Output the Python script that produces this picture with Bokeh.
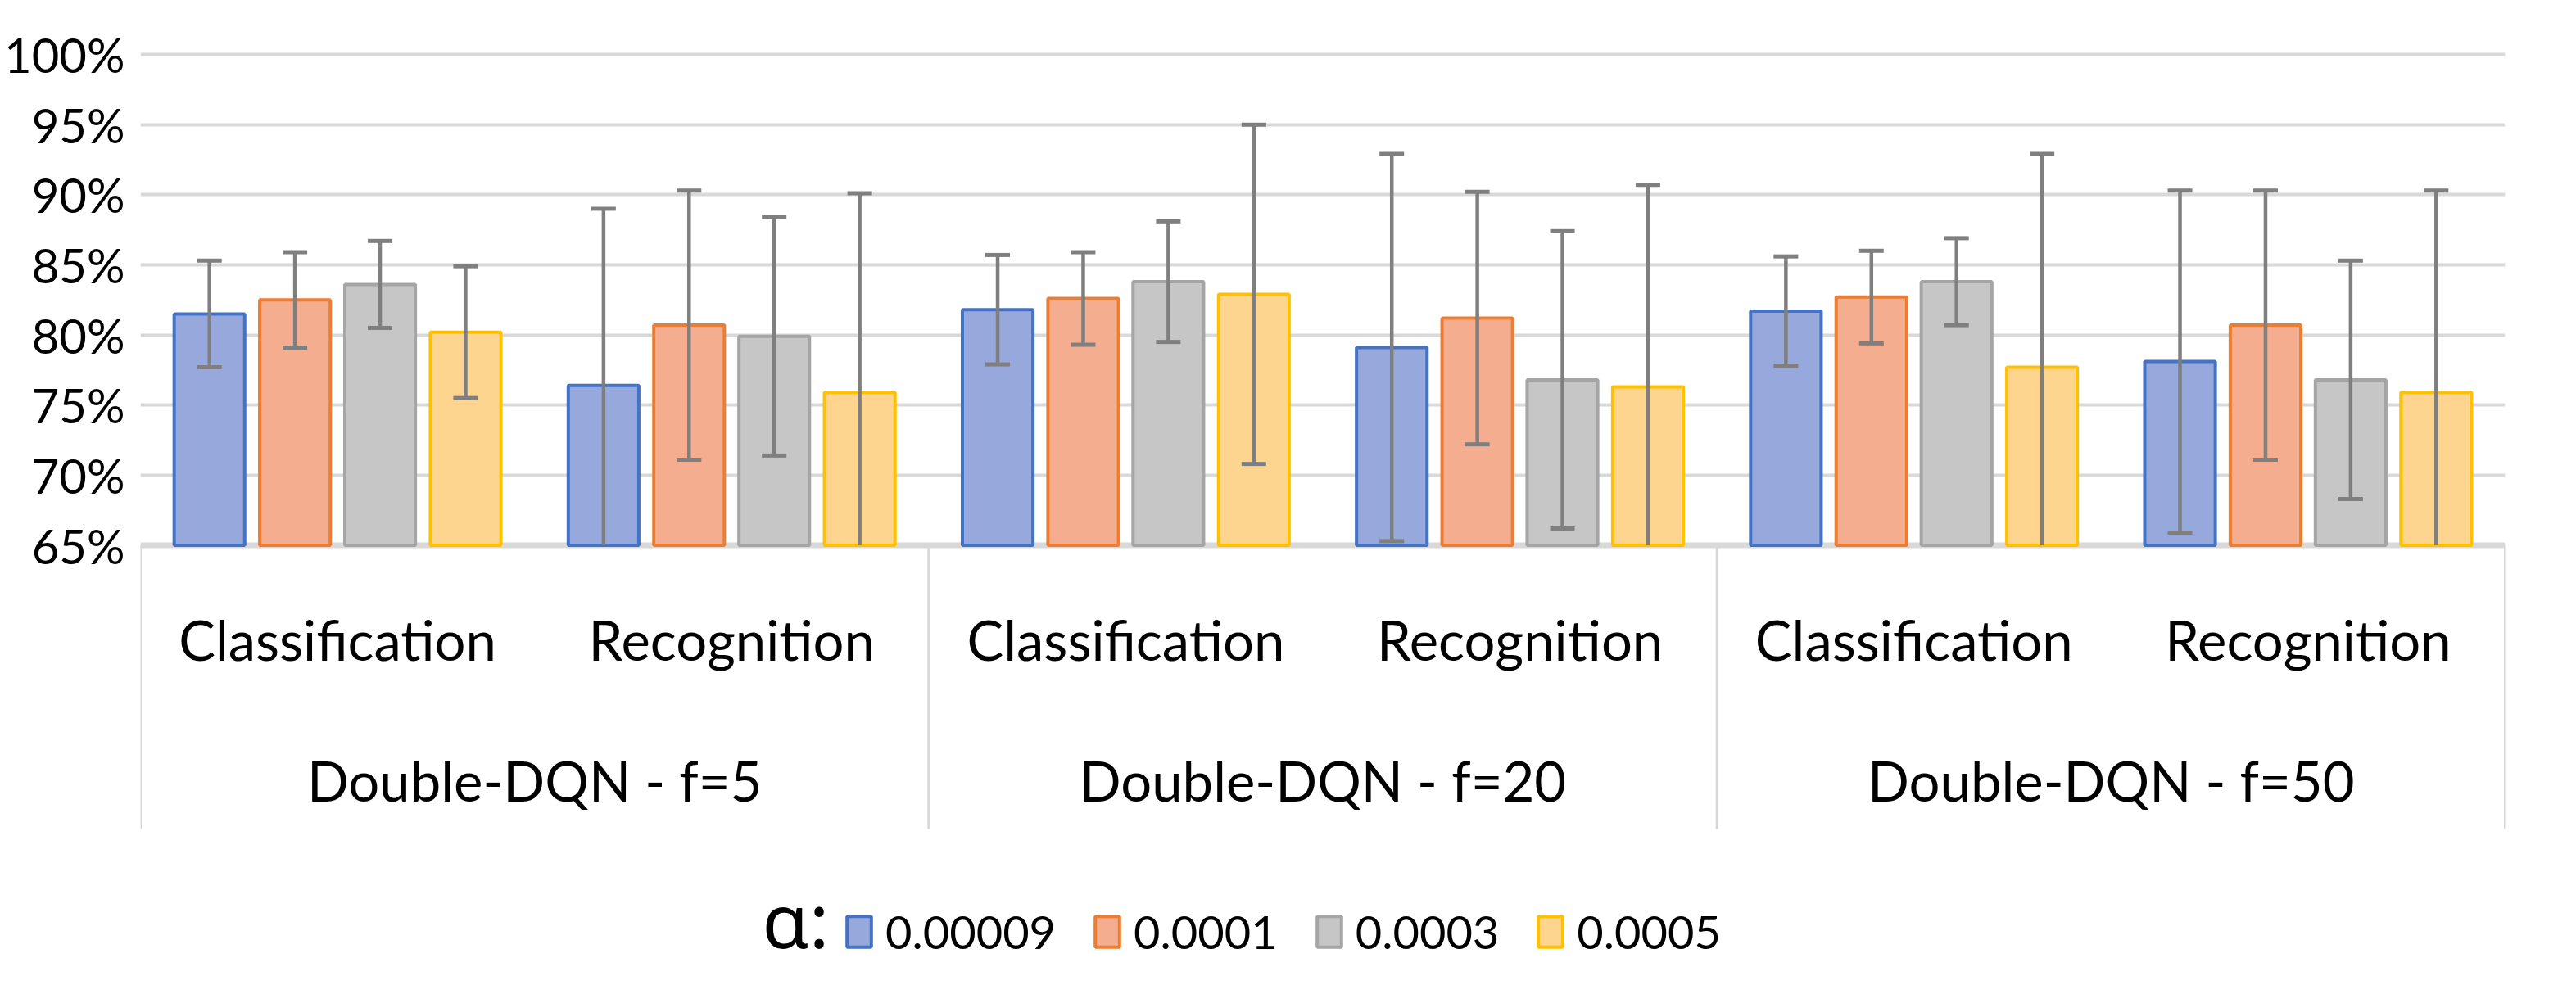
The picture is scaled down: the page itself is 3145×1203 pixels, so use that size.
from bokeh.plotting import figure
from bokeh.models import (ColumnDataSource, FactorRange, Range1d, FixedTicker,
                          PrintfTickFormatter, Legend, LegendItem, Span)
from bokeh.transform import dodge
from bokeh.core.properties import value
from bokeh.embed import file_html
from bokeh.resources import INLINE

# ---------------- data ----------------
groups = ["Double-DQN - f=5", "Double-DQN - f=20", "Double-DQN - f=50"]
tasks = ["Classification", "Recognition"]
alphas = ["0.00009", "0.0001", "0.0003", "0.0005"]

# mean accuracy (%) per (group, task), in order f5-Cls, f5-Rec, f20-Cls, f20-Rec, f50-Cls, f50-Rec
acc_00009 = [81.5, 76.4, 81.8, 79.1, 81.7, 78.1]
acc_0001 = [82.5, 80.7, 82.6, 81.2, 82.7, 80.7]
acc_0003 = [83.6, 79.9, 83.8, 76.8, 83.8, 76.8]
acc_0005 = [80.2, 75.9, 82.9, 76.3, 77.7, 75.9]

# error bar half-length (%)
err_00009 = [3.8, 12.6, 3.9, 13.8, 3.9, 12.2]
err_0001 = [3.4, 9.6, 3.3, 9.0, 3.3, 9.6]
err_0003 = [3.1, 8.5, 4.3, 10.6, 3.1, 8.5]
err_0005 = [4.7, 14.2, 12.1, 14.4, 15.2, 14.4]

y_ticks = [65, 70, 75, 80, 85, 90, 95, 100]

# ---------------- styles ----------------
FONT = "Lato"
ALPHA_FONT = "Noto Sans"
fills = ["#97A9DC", "#F4AD8F", "#C6C6C6", "#FED58E"]
edges = ["#4472C4", "#ED7D31", "#A5A5A5", "#FFC000"]
ERR = "#7F7F7F"
GRID = "#D9D9D9"
offsets = [-0.325, -0.108, 0.108, 0.325]
BAR_W = 0.179

# page-pixel layout
W, H = 3128, 1190
FR_L, FR_R, FR_T, FR_B = 179, 3066, 40, 1196
PX65, PX100 = 673.5, 74.0

factors = [(g, t) for g in groups for t in tasks]
per = (PX65 - PX100) / (y_ticks[-1] - y_ticks[0])
y_min = y_ticks[0]
y_start = y_min - (FR_B - PX65) / per
y_end = y_ticks[-1] + (PX100 - FR_T) / per
unit = (FR_R - FR_L) / len(factors)


def xd(px):
    return (px - FR_L) / unit


def yd(py):
    return y_min - (py - PX65) / per


p = figure(width=W, height=H,
           x_range=FactorRange(factors=factors, factor_padding=0, subgroup_padding=0,
                               group_padding=0, range_padding=0),
           y_range=Range1d(y_start, y_end),
           output_backend="svg", toolbar_location=None,
           min_border_left=FR_L - 8, min_border_right=8 + W - FR_R,
           min_border_top=FR_T - 8, min_border_bottom=8 + H - FR_B)
p.outline_line_color = None
p.background_fill_color = "white"
p.border_fill_color = "white"
p.xaxis.visible = False
p.xgrid.visible = False

ticker = FixedTicker(ticks=y_ticks)
p.yaxis.ticker = ticker
p.yaxis.formatter = PrintfTickFormatter(format="%d%%")
p.yaxis.axis_line_color = None
p.yaxis.major_tick_line_color = None
p.yaxis.minor_tick_line_color = None
p.yaxis.major_label_standoff = 13
p.yaxis.major_label_text_font = FONT
p.yaxis.major_label_text_font_size = "58px"
p.yaxis.major_label_text_color = "black"
p.ygrid.ticker = ticker
p.ygrid.grid_line_color = GRID
p.ygrid.grid_line_width = 4

p.add_layout(Span(location=y_min, dimension="width", line_color=GRID,
                  line_width=7, level="underlay"))

series_vals = [acc_00009, acc_0001, acc_0003, acc_0005]
series_err = [err_00009, err_0001, err_0003, err_0005]

renderers = []
for i, a in enumerate(alphas):
    v = series_vals[i]
    e = series_err[i]
    hi = [m + d for m, d in zip(v, e)]
    lo = [max(m - d, y_min) for m, d in zip(v, e)]
    src = ColumnDataSource(dict(x=factors, top=v, hi=hi, lo=lo))
    xs = dodge("x", offsets[i], range=p.x_range)
    r = p.vbar(x=xs, top="top", bottom=y_min, width=BAR_W, source=src,
               fill_color=fills[i], line_color=edges[i], line_width=4)
    renderers.append(r)
    p.segment(x0=xs, y0="lo", x1=xs, y1="hi", source=src,
              line_color=ERR, line_width=4.5)
    p.scatter(x=xs, y="hi", source=src, marker="dash", size=30,
              line_color=ERR, line_width=5)
    keep = [k for k in range(len(v)) if v[k] - e[k] > y_min]
    src_lo = ColumnDataSource(dict(x=[factors[k] for k in keep],
                                   lo=[v[k] - e[k] for k in keep]))
    p.scatter(x=dodge("x", offsets[i], range=p.x_range), y="lo", source=src_lo,
              marker="dash", size=30, line_color=ERR, line_width=5)

# category "box" separators
bounds = [k * len(tasks) for k in range(len(groups) + 1)]
p.segment(x0=bounds, y0=[y_min] * len(bounds), x1=bounds,
          y1=[yd(1020)] * len(bounds), line_color=GRID, line_width=3)

# category labels
p.text(x=factors, y=[yd(788)] * len(factors), text=[t for g in groups for t in tasks],
       text_font=value(FONT), text_font_size="67px", text_align="center",
       text_baseline="middle", text_color="black")
p.text(x=groups, y=[yd(960)] * len(groups), text=groups,
       text_font=value(FONT), text_font_size="67px", text_align="center",
       text_baseline="middle", text_color="black")

# legend
p.text(x=[xd(938)], y=[yd(1130)], text=["α:"], text_font=value(ALPHA_FONT),
       text_font_size="92px", text_align="left", text_baseline="middle",
       text_color="black")
legend = Legend(items=[LegendItem(label=a, renderers=[renderers[i]]) for i, a in enumerate(alphas)],
                orientation="horizontal", location=(1038 - FR_L, 17),
                glyph_width=37, glyph_height=47, label_standoff=14, spacing=44,
                padding=0, margin=0, border_line_color=None, background_fill_alpha=0,
                label_text_font=FONT, label_text_font_size="56px", label_text_color="black")
p.add_layout(legend)

open("out.html", "w").write(file_html(p, INLINE))
